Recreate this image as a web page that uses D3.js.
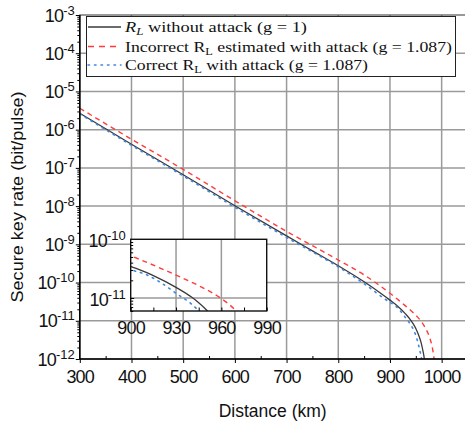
<!DOCTYPE html>
<html>
<head>
<meta charset="utf-8">
<script src="https://cdn.jsdelivr.net/npm/d3@7"></script>
<style>
  body { margin: 0; background: #fff; }
  svg { display: block; }
  .tick-label { font-family: "Liberation Sans", Arial, sans-serif; font-size: 18px; fill: #111; letter-spacing: -0.8px; }
  .legend-text { font-family: "Liberation Serif", "Times New Roman", serif; font-size: 15px; fill: #111; }
</style>
</head>
<body>
<svg id="chart" width="465" height="423"></svg>
<script>
// Data (rates stored as log10 of bit/pulse)
const distNoAttack = [300, 400, 500, 600, 700, 750, 800, 850, 880, 900, 915, 930, 940, 945, 950, 955, 960, 964, 966, 968];
const logRateNoAttack = [-5.57, -6.38, -7.18, -7.99, -8.78, -9.17, -9.56, -9.98, -10.26, -10.46, -10.62, -10.82, -10.98, -11.08, -11.2, -11.36, -11.56, -11.8, -11.95, -12.2];

const distIncorrect = [300, 400, 500, 600, 700, 800, 850, 900, 930, 945, 960, 969, 977, 982, 986];
const logRateIncorrect = [-5.44, -6.25, -7.04, -7.86, -8.66, -9.41, -9.80, -10.28, -10.61, -10.79, -11.01, -11.2, -11.45, -11.7, -12.05];

const distCorrect = [300, 400, 500, 600, 700, 800, 850, 900, 910, 920, 930, 940, 945, 950, 955, 959, 962];
const logRateCorrect = [-5.59, -6.41, -7.21, -8.03, -8.82, -9.59, -10.03, -10.52, -10.6, -10.74, -10.92, -11.1, -11.22, -11.38, -11.62, -11.85, -12.05];

const xTicks = [300, 400, 500, 600, 700, 800, 900, 1000];
const xMinorTicks = [350, 450, 550, 650, 750, 850, 950, 1050];
const yExponents = [-3, -4, -5, -6, -7, -8, -9, -10, -11, -12];
const insetXTicks = [900, 930, 960, 990];
const insetXMinorTicks = [915, 945, 975];
const insetYExponents = [-10, -11];

const legendLabels = [
  { sym: 'R', symItalic: true, sub: 'L', pre: '', text: ' without attack (g = 1)' },
  { sym: 'R', symItalic: false, sub: 'L', pre: 'Incorrect ', text: ' estimated with attack (g = 1.087)' },
  { sym: 'R', symItalic: false, sub: 'L', pre: 'Correct ', text: ' with attack (g = 1.087)' }
];
const legendTextWidths = [182, 327, 243];

const series = [
  { x: distNoAttack, y: logRateNoAttack, color: '#3a3a3a', width: 1.3, dash: null },
  { x: distIncorrect, y: logRateIncorrect, color: '#ff3b3b', width: 1.4, dash: '5,4' },
  { x: distCorrect, y: logRateCorrect, color: '#3f86e0', width: 1.6, dash: '1.5,5' }
];

const svg = d3.select('#chart');

// Main plot area
const plotLeft = 79.8, plotTop = 15, plotBottom = 359, plotRight = 467.5;
const x = d3.scaleLinear().domain([300, 1050]).range([plotLeft, plotRight]);
const y = d3.scaleLog().domain([1e-12, 1e-3]).range([plotBottom, plotTop]);

function minorLogTicks(lo, hi) {
  const out = [];
  for (let e = lo; e < hi; e++) {
    for (let k = 2; k <= 9; k++) out.push(k * Math.pow(10, e));
  }
  return out;
}

// grid
const grid = svg.append('g');
grid.selectAll('.vg').data(xTicks.slice(1)).enter().append('line')
  .attr('x1', d => x(d)).attr('x2', d => x(d))
  .attr('y1', plotTop).attr('y2', plotBottom)
  .attr('stroke', '#9a9a9a').attr('stroke-width', 1.5);
grid.selectAll('.hg').data(yExponents.slice(1, -1)).enter().append('line')
  .attr('x1', plotLeft).attr('x2', plotRight)
  .attr('y1', d => y(Math.pow(10, d))).attr('y2', d => y(Math.pow(10, d)))
  .attr('stroke', '#9a9a9a').attr('stroke-width', 1.5);

// clip for main
svg.append('clipPath').attr('id', 'mainClip').append('rect')
  .attr('x', plotLeft).attr('y', plotTop).attr('width', plotRight - plotLeft).attr('height', plotBottom - plotTop);

const line = d3.line().curve(d3.curveMonotoneX);

function drawSeries(g, xs, ys) {
  series.forEach(s => {
    const pts = s.x.map((d, i) => [xs(d), ys(Math.pow(10, s.y[i]))]);
    g.append('path')
      .attr('d', line(pts))
      .attr('fill', 'none')
      .attr('stroke', s.color)
      .attr('stroke-width', s.width)
      .attr('stroke-dasharray', s.dash)
      .attr('stroke-linecap', s.dash === '1.5,5' ? 'round' : 'butt');
  });
}

drawSeries(svg.append('g').attr('clip-path', 'url(#mainClip)'), x, y);

// frame
svg.append('rect')
  .attr('x', plotLeft).attr('y', plotTop).attr('width', plotRight - plotLeft).attr('height', plotBottom - plotTop)
  .attr('fill', 'none').attr('stroke', '#333').attr('stroke-width', 1);
svg.append('line').attr('x1', plotLeft).attr('x2', plotLeft).attr('y1', plotTop).attr('y2', plotBottom)
  .attr('stroke', '#000').attr('stroke-width', 1.6);
svg.append('line').attr('x1', plotLeft).attr('x2', plotRight).attr('y1', plotBottom).attr('y2', plotBottom)
  .attr('stroke', '#000').attr('stroke-width', 1.6);

// axes ticks
const xAxis = svg.append('g').attr('transform', `translate(0,${plotBottom})`);
xAxis.call(d3.axisBottom(x).tickValues(xTicks).tickSize(4).tickFormat(''));
xAxis.append('g').call(d3.axisBottom(x).tickValues(xMinorTicks).tickSize(-3).tickFormat(''));
xAxis.selectAll('.domain').remove();
xAxis.selectAll('line').attr('stroke', '#000');

xAxis.selectAll('.xl').data(xTicks).enter().append('text')
  .attr('class', 'tick-label')
  .attr('x', d => x(d) + 0.4).attr('y', 24)
  .attr('text-anchor', 'middle')
  .text(d => d);

const yAxis = svg.append('g').attr('transform', `translate(${plotLeft},0)`);
yAxis.call(d3.axisLeft(y).tickValues(yExponents.map(e => Math.pow(10, e))).tickSize(4).tickFormat(''));
yAxis.append('g').call(d3.axisLeft(y).tickValues(minorLogTicks(-12, -3)).tickSize(2.5).tickFormat(''));
yAxis.selectAll('.domain').remove();
yAxis.selectAll('line').attr('stroke', '#000');

function powerLabel(g, px, py, e) {
  const t = g.append('text').attr('class', 'tick-label')
    .attr('x', px).attr('y', py + 6.5).attr('text-anchor', 'end');
  t.append('tspan').text('10');
  t.append('tspan').attr('dy', -7).style('font-size', '13px').style('letter-spacing', '0px').text(e);
}
yExponents.forEach(e => powerLabel(svg, plotLeft - 5, y(Math.pow(10, e)), e));

// axis titles
svg.append('text')
  .attr('transform', `translate(23,${(plotTop + plotBottom) / 2 + 10}) rotate(-90)`)
  .attr('text-anchor', 'middle')
  .style('font-family', '"Liberation Sans", Arial, sans-serif')
  .style('font-size', '17px').style('fill', '#111')
  .attr('textLength', 211).attr('lengthAdjust', 'spacingAndGlyphs')
  .text('Secure key rate (bit/pulse)');

svg.append('text')
  .attr('x', 272.7).attr('y', 417)
  .attr('text-anchor', 'middle')
  .style('font-family', '"Liberation Sans", Arial, sans-serif')
  .style('font-size', '17.5px').style('fill', '#111')
  .attr('textLength', 108).attr('lengthAdjust', 'spacingAndGlyphs')
  .text('Distance (km)');

// Legend
const lg = svg.append('g');
lg.append('rect').attr('x', 86.5).attr('y', 16.5).attr('width', 369).attr('height', 60)
  .attr('fill', '#fff').attr('stroke', '#222').attr('stroke-width', 1);
const rowY = [27, 46.5, 65];
legendLabels.forEach((l, i) => {
  const s = series[i];
  lg.append('line')
    .attr('x1', 88).attr('x2', 121).attr('y1', rowY[i]).attr('y2', rowY[i])
    .attr('stroke', s.color).attr('stroke-width', s.width)
    .attr('stroke-dasharray', i === 1 ? '6,5' : (i === 2 ? '1.5,5' : null))
    .attr('stroke-linecap', i === 2 ? 'round' : 'butt');
  const t = lg.append('text').attr('class', 'legend-text')
    .attr('x', 125).attr('y', rowY[i] + 5)
    .attr('textLength', legendTextWidths[i]).attr('lengthAdjust', 'spacingAndGlyphs');
  if (l.pre) t.append('tspan').text(l.pre);
  t.append('tspan').style('font-style', l.symItalic ? 'italic' : 'normal').text(l.sym);
  t.append('tspan').attr('dy', 3).style('font-size', '10.5px')
    .style('font-style', l.symItalic ? 'italic' : 'normal').text(l.sub);
  t.append('tspan').attr('dy', -3).text(l.text);
});

// Inset
const iL = 130.7, iR = 266.7, iT = 239.3, iB = 311;
const ix = d3.scaleLinear().domain([900, 990]).range([iL, iR]);
const iy = d3.scaleLog().domain([6e-12, 1e-10]).range([iB, iT]);
const inset = svg.append('g');
inset.append('rect').attr('x', iL).attr('y', iT).attr('width', iR - iL).attr('height', iB - iT)
  .attr('fill', '#fff');
inset.selectAll('.ivg').data(insetXTicks.slice(1, -1)).enter().append('line')
  .attr('x1', d => ix(d)).attr('x2', d => ix(d)).attr('y1', iT).attr('y2', iB)
  .attr('stroke', '#9a9a9a').attr('stroke-width', 1.5);
inset.append('line')
  .attr('x1', iL).attr('x2', iR).attr('y1', iy(1e-11)).attr('y2', iy(1e-11))
  .attr('stroke', '#9a9a9a').attr('stroke-width', 1.5);
svg.append('clipPath').attr('id', 'insetClip').append('rect')
  .attr('x', iL).attr('y', iT).attr('width', iR - iL).attr('height', iB - iT);
drawSeries(inset.append('g').attr('clip-path', 'url(#insetClip)'), ix, iy);
inset.append('rect').attr('x', iL).attr('y', iT).attr('width', iR - iL).attr('height', iB - iT)
  .attr('fill', 'none').attr('stroke', '#111').attr('stroke-width', 1.4);

const ixAxis = inset.append('g').attr('transform', `translate(0,${iB})`);
ixAxis.call(d3.axisBottom(ix).tickValues(insetXTicks).tickSize(-3.5).tickFormat(''));
ixAxis.append('g').call(d3.axisBottom(ix).tickValues(insetXMinorTicks).tickSize(-3.5).tickFormat(''));
ixAxis.selectAll('.domain').remove();
ixAxis.selectAll('line').attr('stroke', '#000');
ixAxis.selectAll('.ixl').data(insetXTicks).enter().append('text')
  .attr('class', 'tick-label')
  .attr('x', d => ix(d) + 0.4).attr('y', 23)
  .attr('text-anchor', 'middle')
  .text(d => d);

const iyAxis = inset.append('g').attr('transform', `translate(${iL},0)`);
iyAxis.call(d3.axisLeft(iy).tickValues([1e-11]).tickSize(-3.5).tickFormat(''));
iyAxis.append('g').call(d3.axisLeft(iy).tickValues(
  minorLogTicks(-12, -10).filter(v => v >= 6e-12 && v <= 1e-10)
).tickSize(-2.5).tickFormat(''));
iyAxis.selectAll('.domain').remove();
iyAxis.selectAll('line').attr('stroke', '#000');
insetYExponents.forEach(e => powerLabel(svg, iL - 5, iy(Math.pow(10, e)) + 1.5, e));
</script>
</body>
</html>
